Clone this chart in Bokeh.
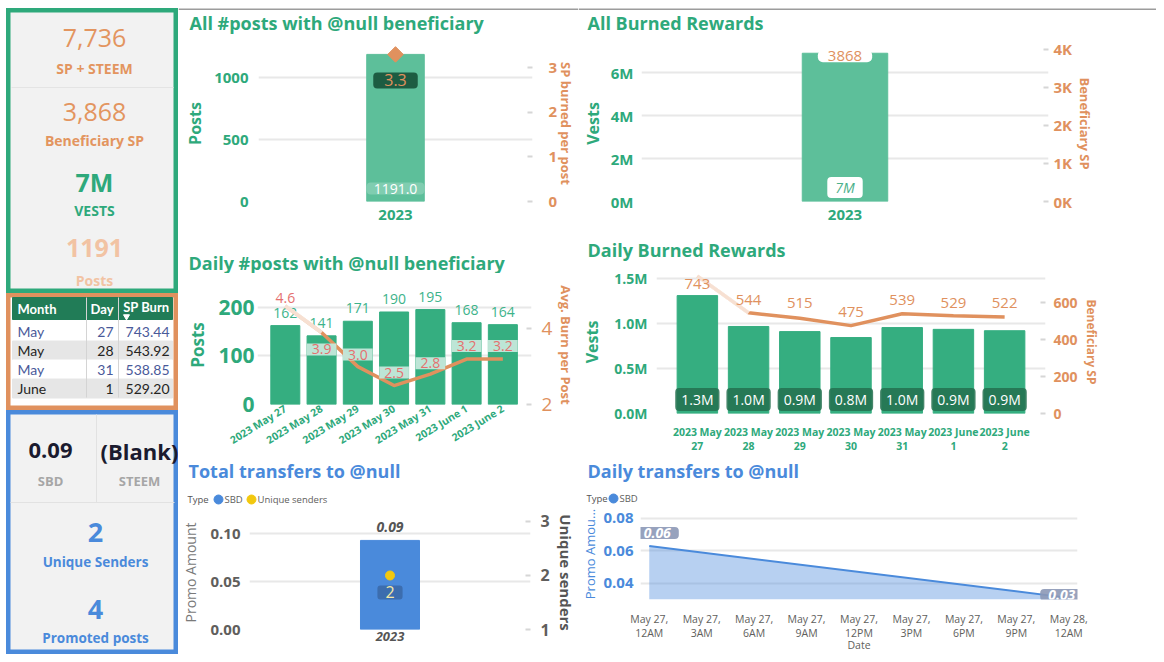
import datetime as dt
from bokeh.plotting import figure
from bokeh.models import Range1d, LinearAxis, FixedTicker, FactorRange, PrintfTickFormatter
from bokeh.layouts import row, column
from bokeh.core.properties import value
from bokeh.embed import file_html
from bokeh.resources import INLINE

FONT = "Open Sans"
TFONT = "Lato"
GREEN = "#2EA97B"
BAR_LIGHT = "#5DBF9A"
BAR = "#35AE80"
ORANGE = "#E0915E"
KPI_ORANGE = "#E3955F"
LORANGE = "#F2C3A3"
BLUE = "#4A8ADB"
YELLOW = "#F2C80F"
GRAY = "#605E5C"
DGRAY = "#555555"
GRID = "#E8E8E8"
CARD = "#F2F2F2"

# ---------------- data ----------------
kpi_values = ["7,736", "3,868", "7M", "1191"]
kpi_labels = ["SP + STEEM", "Beneficiary SP", "VESTS", "Posts"]

table_cols = ["Month", "Day", "SP Burn"]
table_month = ["May", "May", "May", "June"]
table_day = [27, 28, 31, 1]
table_burn = [743.44, 543.92, 538.85, 529.20]

transfer_cards = ["0.09", "(Blank)"]
transfer_card_labels = ["SBD", "STEEM"]
unique_senders = 2
promoted_posts = 4

years = ["2023"]
all_posts = [1191]
sp_per_post = [3.3]
all_vests = [6.9e6]
all_sp = [3868]

days = ["2023 May 27", "2023 May 28", "2023 May 29", "2023 May 30",
        "2023 May 31", "2023 June 1", "2023 June 2"]
daily_posts = [162, 141, 171, 190, 195, 168, 164]
avg_burn = [4.6, 3.9, 3.0, 2.5, 2.8, 3.2, 3.2]
daily_vests = [1.31e6, 0.967e6, 0.91e6, 0.844e6, 0.955e6, 0.935e6, 0.92e6]
daily_sp = [743, 544, 515, 475, 539, 529, 522]

transfer_types = ["SBD", "Unique senders"]
transfer_sbd = [0.093]
transfer_senders = [2]

daily_types = ["SBD"]
daily_dates = [dt.datetime(2023, 5, 27, 0, 0), dt.datetime(2023, 5, 28, 0, 0)]
daily_sbd = [0.063, 0.031]


# ---------------- helpers ----------------
def fig(w, h, left, right, top, bottom, **kw):
    p = figure(width=w, height=h, output_backend="svg", toolbar_location=None, title=None,
               min_border=0, min_border_left=left, min_border_right=right,
               min_border_top=top, min_border_bottom=bottom, **kw)
    p.outline_line_color = None
    p.background_fill_color = "white"
    p.border_fill_color = "white"
    p.xgrid.grid_line_color = None
    p.ygrid.grid_line_color = GRID
    p.ygrid.grid_line_width = 2
    return p


def style_axis(ax, color, size, style="bold", standoff=8, label=None, lcolor=None,
               lsize="14px", lstyle="bold", lstandoff=6):
    ax.axis_line_color = None
    ax.major_tick_line_color = None
    ax.minor_tick_line_color = None
    ax.major_tick_out = 0
    ax.major_tick_in = 0
    ax.minor_tick_out = 0
    ax.minor_tick_in = 0
    ax.major_label_text_color = color
    ax.major_label_text_font = FONT
    ax.major_label_text_font_size = size
    ax.major_label_text_font_style = style
    ax.major_label_standoff = standoff
    if label is not None:
        ax.axis_label = label
        ax.axis_label_text_color = lcolor or color
        ax.axis_label_text_font = FONT
        ax.axis_label_text_font_size = lsize
        ax.axis_label_text_font_style = lstyle
        ax.axis_label_standoff = lstandoff


def right_dash(ax):
    ax.major_tick_line_color = "#D6D6D6"
    ax.major_tick_line_width = 2
    ax.major_tick_in = 5
    ax.major_tick_out = 0


def card(w, h, outline, bg=CARD):
    p = figure(width=w, height=h, x_range=Range1d(0, w), y_range=Range1d(h, 0),
               output_backend="svg", toolbar_location=None, title=None,
               x_axis_location=None, y_axis_location=None, min_border=0,
               min_border_left=0, min_border_right=0, min_border_top=0, min_border_bottom=0)
    p.grid.visible = False
    p.background_fill_color = bg
    p.border_fill_color = "white"
    p.outline_line_color = outline
    p.outline_line_width = 8 if outline else 0
    return p


def txt(p, x, y, text, color, size, style="normal", align="center", font=FONT, **kw):
    return p.text(x=x, y=y, text=text, text_color=color, text_font=value(font),
                  text_font_size=size, text_font_style=style, text_align=align,
                  text_baseline="middle", **kw)


def header(w, h, title, tx, ty, color, topline=False):
    p = card(w, h, None, bg="white")
    txt(p, [tx], [ty], [title], color, "18px", "bold", align="left")
    if topline:
        p.segment(x0=[0], y0=[0.5], x1=[w], y1=[0.5], color="#3A3A3A", line_width=1)
    return p


# ---------------- left column ----------------
L1 = card(172, 285, GREEN)
kpi_colors = [KPI_ORANGE, KPI_ORANGE, GREEN, LORANGE]
kpi_styles = ["normal", "normal", "bold", "bold"]
kpi_vy = [29, 103, 173, 239]
kpi_ly = [60, 132, 202, 272]
for v, lab, c, s, vy, ly in zip(kpi_values, kpi_labels, kpi_colors, kpi_styles, kpi_vy, kpi_ly):
    txt(L1, [88], [vy], [v], c, "25px", s)
    txt(L1, [88], [ly], [lab], c, "14px", "bold")
L1.segment(x0=[5], y0=[79], x1=[167], y1=[79], color="#E4E4E4", line_width=1)

L2 = card(172, 117, ORANGE, bg="white")
n = len(table_month)
HEAD = "#217C57"
L2.rect(x=[86], y=[15], width=160, height=22, color=HEAD)
row_y = [38 + 19 * i for i in range(n)]
row_bg = ["white" if i % 2 == 0 else "#E6E6E6" for i in range(n)]
L2.rect(x=[86] * n, y=row_y, width=160, height=19, color=row_bg)
txt(L2, [11], [15], [table_cols[0]], "white", "13px", "bold", align="left", font=TFONT)
txt(L2, [107], [15], [table_cols[1]], "white", "13px", "bold", align="right", font=TFONT)
txt(L2, [163], [13], [table_cols[2]], "white", "13px", "bold", align="right", font=TFONT)
L2.scatter(x=[120], y=[23], marker="inverted_triangle", size=6, color="white")
row_col = ["#4A5A9A" if i % 2 == 0 else "#252423" for i in range(n)]
for xx, vals, al in [(11, table_month, "left"), (107, [str(d) for d in table_day], "right"),
                     (163, [f"{b:.2f}" for b in table_burn], "right")]:
    L2.text(x=[xx] * n, y=row_y, text=vals, text_color=row_col, text_font=value(TFONT),
            text_font_size="14px", text_align=al, text_baseline="middle")
L2.segment(x0=[80, 112], y0=[4, 4], x1=[80, 112], y1=[row_y[-1] + 9] * 2, color="#D4D4D4", line_width=1)

L3 = card(172, 244, BLUE)
txt(L3, [44, 133], [40, 40], transfer_cards, "#1B1B2F", "22px", "bold")
txt(L3, [44, 133], [70, 70], transfer_card_labels, "#A6A6A6", "13px", "bold")
L3.segment(x0=[90, 4], y0=[4, 92], x1=[90, 168], y1=[92, 92], color="#E2E2E2", line_width=1)
txt(L3, [89], [122], [str(unique_senders)], BLUE, "27px", "bold")
txt(L3, [89], [151], ["Unique Senders"], BLUE, "13.5px", "bold")
txt(L3, [89], [199], [str(promoted_posts)], BLUE, "27px", "bold")
txt(L3, [89], [227], ["Promoted posts"], BLUE, "13.5px", "bold")

# ---------------- A: All posts ----------------
AH = header(400, 30, "All #posts with @null beneficiary", 11, 14, GREEN, topline=True)
A = fig(400, 190, 80, 42, 7, 27, x_range=FactorRange(factors=years), y_range=Range1d(0, 1263))
A.extra_y_ranges = {"r": Range1d(0, 3.5)}
A.vbar(x=years, top=all_posts, width=0.21, color=BAR_LIGHT)
A.scatter(x=years, y=sp_per_post, y_range_name="r", marker="square", angle=0.785, size=11, color=ORANGE)
A.text(x=years, y=sp_per_post, y_range_name="r", text=[f"{v:.1f}" for v in sp_per_post],
       y_offset=26, text_align="center", text_baseline="middle", text_color=ORANGE,
       text_font=value(FONT), text_font_size="16px", background_fill_color="#1D5C42",
       border_radius=4, padding=dict(x=11, y=2))
A.text(x=years, y=[0 for _ in all_posts], text=[f"{v:.1f}" for v in all_posts],
       y_offset=-13, text_align="center", text_baseline="middle", text_color="white",
       text_font=value(FONT), text_font_size="14px", background_fill_color="white",
       background_fill_alpha=0.22, border_radius=4, padding=dict(x=7, y=1))
A.yaxis.ticker = FixedTicker(ticks=[0, 500, 1000])
style_axis(A.yaxis[0], GREEN, "15px", standoff=10, label="Posts", lsize="16px", lstandoff=5)
style_axis(A.xaxis[0], GREEN, "15px", standoff=8)
aR = LinearAxis(y_range_name="r", ticker=FixedTicker(ticks=[0, 1, 2, 3]))
style_axis(aR, ORANGE, "15px", standoff=16, label="SP burned per post", lsize="13px", lstandoff=-3)
right_dash(aR)
A.add_layout(aR, "right")

# ---------------- B: All burned ----------------
BH = header(578, 30, "All Burned Rewards", 9, 14, GREEN, topline=True)
B = fig(578, 190, 60, 108, 7, 27, x_range=FactorRange(factors=years), y_range=Range1d(0, 7.26e6))
B.extra_y_ranges = {"r": Range1d(0, 4100)}
B.vbar(x=years, top=all_vests, width=0.21, color=BAR_LIGHT)
B.text(x=years, y=all_sp, y_range_name="r", text=[f"{v:.0f}" for v in all_sp], y_offset=2,
       text_align="center", text_baseline="middle", text_color=ORANGE, text_font=value(FONT),
       text_font_size="15px", background_fill_color="white", border_radius=5,
       padding=dict(x=10, y=1))
B.text(x=years, y=[0 for _ in all_vests], text=[f"{v / 1e6:.0f}M" for v in all_vests], y_offset=-14,
       text_align="center", text_baseline="middle", text_color="#4BB08A", text_font=value(FONT),
       text_font_size="14px", text_font_style="italic", background_fill_color="white",
       border_radius=4, padding=dict(x=8, y=1))
vt = [0, 2e6, 4e6, 6e6]
B.yaxis.ticker = FixedTicker(ticks=vt)
B.yaxis.major_label_overrides = {t: f"{t / 1e6:.0f}M" for t in vt}
style_axis(B.yaxis[0], GREEN, "15px", standoff=8, label="Vests", lsize="16px", lstandoff=4)
style_axis(B.xaxis[0], GREEN, "15px", standoff=8)
st = [0, 1000, 2000, 3000, 4000]
bR = LinearAxis(y_range_name="r", ticker=FixedTicker(ticks=st))
bR.major_label_overrides = {t: f"{t // 1000}K" for t in st}
style_axis(bR, ORANGE, "15px", standoff=5, label="Beneficiary SP", lsize="13px", lstandoff=1)
right_dash(bR)
B.add_layout(bR, "right")

# ---------------- C: Daily posts ----------------
xs = list(range(1, len(days) + 1))
CH = header(400, 45, "Daily #posts with @null beneficiary", 10, 34, GREEN)
C = fig(400, 182, 79, 45, 12, 49, x_range=Range1d(0.233, 7.79), y_range=Range1d(0, 244.4))
C.extra_y_ranges = {"r": Range1d(2, 5.14)}
C.vbar(x=xs, top=daily_posts, width=0.8, color=BAR)
C.text(x=xs, y=daily_posts, text=[str(v) for v in daily_posts], y_offset=-13, text_align="center",
       text_baseline="middle", text_color="#3DB38A", text_font=value(FONT), text_font_size="14px")
C.line(xs, avg_burn, y_range_name="r", color=ORANGE, line_width=3.5)
C.line(xs[:2], avg_burn[:2], y_range_name="r", color="white", line_width=4, alpha=0.72)
c_off = [-8, 17, -12, -13, -11, -13, -13]
C.text(x=xs[:1], y=avg_burn[:1], y_range_name="r", text=[f"{v:.1f}" for v in avg_burn[:1]],
       y_offset=c_off[:1], text_align="center", text_baseline="middle", text_color="#E5706F",
       text_font=value(FONT), text_font_size="14px")
C.text(x=xs[1:], y=avg_burn[1:], y_range_name="r", text=[f"{v:.1f}" for v in avg_burn[1:]],
       y_offset=c_off[1:], text_align="center", text_baseline="middle", text_color="#E5706F",
       text_font=value(FONT), text_font_size="14px", background_fill_color="#C5E8DA",
       background_fill_alpha=0.95, padding=dict(x=5, y=1))
C.xaxis.ticker = FixedTicker(ticks=xs)
C.xaxis.major_label_overrides = {i: d for i, d in zip(xs, days)}
C.xaxis.major_label_orientation = 0.55
C.yaxis.ticker = FixedTicker(ticks=[0, 100, 200])
style_axis(C.yaxis[0], GREEN, "21px", standoff=3, label="Posts", lsize="17px", lstandoff=6)
style_axis(C.xaxis[0], GREEN, "10.5px", standoff=3)
cR = LinearAxis(y_range_name="r", ticker=FixedTicker(ticks=[2, 4]))
style_axis(cR, ORANGE, "19px", style="normal", standoff=10, label="Avg. Burn per Post",
           lsize="13px", lstandoff=2)
right_dash(cR)
C.add_layout(cR, "right")

# ---------------- D: Daily burned ----------------
DH = header(578, 35, "Daily Burned Rewards", 9, 21, GREEN)
D = fig(578, 192, 72, 111, 7, 42, x_range=Range1d(0.202, 7.798), y_range=Range1d(0, 1.589e6))
D.extra_y_ranges = {"r": Range1d(0, 773)}
D.vbar(x=xs, top=daily_vests, width=0.79, color=BAR)
D.text(x=xs, y=[0 for _ in daily_vests], text=[f"{v / 1e6:.1f}M" for v in daily_vests], y_offset=-14,
       text_align="center", text_baseline="middle", text_color="white", text_font=value(FONT),
       text_font_size="14px", background_fill_color="#23704F", background_fill_alpha=0.85,
       border_radius=4, padding=dict(x=6, y=2))
D.line(xs, daily_sp, y_range_name="r", color=ORANGE, line_width=3.5)
D.line(xs[:2], daily_sp[:2], y_range_name="r", color="white", line_width=4, alpha=0.72)
d_off = [8, -13, -15, -14, -14, -13, -14]
D.text(x=xs, y=daily_sp, y_range_name="r", text=[str(v) for v in daily_sp], y_offset=d_off,
       text_align="center", text_baseline="middle", text_color=ORANGE, text_font=value(FONT),
       text_font_size="15px")
D.xaxis.ticker = FixedTicker(ticks=xs)
D.xaxis.major_label_overrides = {i: "\n".join(d.rsplit(" ", 1)) for i, d in zip(xs, days)}
vt2 = [0, 0.5e6, 1.0e6, 1.5e6]
D.yaxis.ticker = FixedTicker(ticks=vt2)
D.yaxis.major_label_overrides = {t: f"{t / 1e6:.1f}M" for t in vt2}
style_axis(D.yaxis[0], GREEN, "14px", standoff=9, label="Vests", lsize="16px", lstandoff=8)
style_axis(D.xaxis[0], GREEN, "10.5px", standoff=11)
D.xaxis.major_label_text_line_height = 1.0
dR = LinearAxis(y_range_name="r", ticker=FixedTicker(ticks=[0, 200, 400, 600]))
style_axis(dR, ORANGE, "14px", standoff=8, label="Beneficiary SP", lsize="12px", lstandoff=2)
right_dash(dR)
D.add_layout(dR, "right")

# ---------------- E: Total transfers ----------------
EH = header(400, 50, "Total transfers to @null", 10, 15, BLUE)
txt(EH, [9], [44], ["Type"], DGRAY, "9.5px", align="left")
EH.scatter(x=[40, 73], y=[44, 44], size=9, color=[BLUE, YELLOW])
txt(EH, [46, 79], [44, 44], transfer_types, GRAY, "9.5px", align="left")

E = fig(400, 149, 69, 41, 10, 25, x_range=FactorRange(factors=years), y_range=Range1d(0, 0.119))
E.extra_y_ranges = {"r": Range1d(1, 3.11)}
E.vbar(x=years, top=transfer_sbd, width=0.21, color=BLUE)
E.text(x=years, y=transfer_sbd, text=[f"{v:.2f}" for v in transfer_sbd], y_offset=-13,
       text_align="center", text_baseline="middle", text_color=DGRAY, text_font=value(FONT),
       text_font_size="14px", text_font_style="bold italic")
E.scatter(x=years, y=transfer_senders, y_range_name="r", size=9, color=YELLOW)
E.text(x=years, y=transfer_senders, y_range_name="r", text=[str(v) for v in transfer_senders],
       y_offset=17, text_align="center", text_baseline="middle", text_color="#F5E9A6",
       text_font=value(FONT), text_font_size="16px", background_fill_color="#3C6DAE",
       border_radius=3, padding=dict(x=8, y=1))
E.yaxis.ticker = FixedTicker(ticks=[0, 0.05, 0.1])
E.yaxis.formatter = PrintfTickFormatter(format="%.2f")
style_axis(E.yaxis[0], GRAY, "15px", standoff=9, label="Promo Amount", lcolor="#7A7A7A",
           lsize="14px", lstyle="normal", lstandoff=7)
style_axis(E.xaxis[0], DGRAY, "13px", style="bold italic", standoff=2)
eR = LinearAxis(y_range_name="r", ticker=FixedTicker(ticks=[1, 2, 3]))
style_axis(eR, GRAY, "16px", standoff=10, label="Unique senders", lcolor=DGRAY, lsize="15px", lstandoff=3)
right_dash(eR)
E.add_layout(eR, "right")

# ---------------- F: Daily transfers ----------------
FH = header(578, 50, "Daily transfers to @null", 9, 15, BLUE)
txt(FH, [8], [43], ["Type"], DGRAY, "9.5px", align="left")
FH.scatter(x=[35], y=[43], size=9, color=BLUE)
txt(FH, [41], [43], daily_types, GRAY, "9.5px", align="left")

t0 = dt.datetime(2023, 5, 26, 23, 30)
t1 = dt.datetime(2023, 5, 28, 0, 30)
F = fig(578, 149, 54, 79, 3, 52, x_range=Range1d(t0, t1), y_range=Range1d(0.03, 0.0861),
        x_axis_type="datetime")
y_floor = F.y_range.start
F.varea(x=daily_dates, y1=[y_floor for _ in daily_sbd], y2=daily_sbd, color=BLUE, alpha=0.4)
F.line(daily_dates, daily_sbd, color=BLUE, line_width=2)
F.text(x=daily_dates, y=daily_sbd, text=[f"{v:.2f}" for v in daily_sbd], x_offset=[8, -7],
       y_offset=[-13, -3], text_align="center", text_baseline="middle", text_color="white",
       text_font=value(FONT), text_font_size="14px", text_font_style="bold italic",
       background_fill_color="#8C98B6", background_fill_alpha=0.9, border_radius=4,
       padding=dict(x=8, y=1))
epoch = dt.datetime(1970, 1, 1)
tick_times = [daily_dates[0] + dt.timedelta(hours=3 * k) for k in range(9)]
tick_ms = [(t - epoch).total_seconds() * 1000 for t in tick_times]


def fmt_t(t):
    h = t.hour % 12 or 12
    return f"{t:%b} {t.day},\n{h}{'AM' if t.hour < 12 else 'PM'}"


F.xaxis.ticker = FixedTicker(ticks=tick_ms)
F.xaxis.major_label_overrides = {m: fmt_t(t) for m, t in zip(tick_ms, tick_times)}
F.yaxis.ticker = FixedTicker(ticks=[0.04, 0.06, 0.08])
F.yaxis.formatter = PrintfTickFormatter(format="%.2f")
style_axis(F.yaxis[0], BLUE, "15px", standoff=7, label="Promo Amou...", lsize="13px",
           lstyle="normal", lstandoff=1)
style_axis(F.xaxis[0], GRAY, "10.5px", style="normal", standoff=12, label="Date", lcolor=GRAY,
           lsize="10.5px", lstyle="normal", lstandoff=-5)
F.xaxis.major_label_text_line_height = 1.0

# wrap each plot in its own row so sibling frames are not force-aligned
mid = column(row(AH), row(A), row(CH), row(C), row(EH), row(E))
right = column(row(BH), row(B), row(DH), row(D), row(FH), row(F))
left = column(row(L1), row(L2), row(L3))
layout = row(left, mid, right, margin=(8, 0, 0, 6))
open("out.html", "w").write(file_html(layout, INLINE))
